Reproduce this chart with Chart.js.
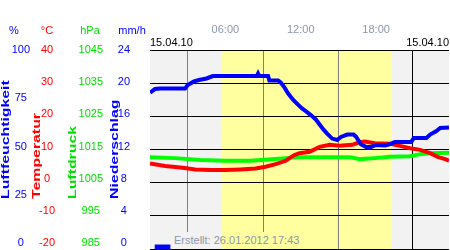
<!DOCTYPE html>
<html lang="de">
<head>
    <meta charset="UTF-8">
    <title>Wetter 15.04.10</title>
    <style>
        body {
            margin: 0;
            background: #fff;
            overflow: hidden;
            font-family: Arial, "Liberation Sans", sans-serif;
        }
        #wrap {
            position: relative;
            width: 450px;
            height: 250px;
        }
        #wrap canvas {
            position: absolute;
            left: 0;
            top: 0;
        }
        .unit {
            position: absolute;
            top: 24px;
            width: 40px;
            margin-left: -20px;
            text-align: center;
            font-size: 11px;
            line-height: 13px;
        }
        .vt {
            position: absolute;
            transform-origin: 0 0;
            transform: rotate(-90deg) scaleX(1.44);
            font-weight: bold;
            font-size: 11px;
            line-height: 11px;
            white-space: nowrap;
        }
        /* the stamp hides the bottom of the 06:00 line, like the original */
        #stamp {
            position: absolute;
            left: 174px;
            top: 232px;
            height: 17px;
            padding-right: 2px;
            font-size: 11px;
            line-height: 17px;
            color: #8b97aa;
            white-space: nowrap;
            background: linear-gradient(to right, #f2f2f2 47px, #ffffa0 47px);
        }
    </style>
</head>
<body>
<div id="wrap">
    <canvas id="wetterChart" width="450" height="250"></canvas>
    <div class="unit" style="left:14px;color:#0000ff">%</div>
    <div class="unit" style="left:47px;color:#ff0000">°C</div>
    <div class="unit" style="left:90px;color:#00e000">hPa</div>
    <div class="unit" style="left:132px;color:#0000ff">mm/h</div>
    <div class="vt" style="left:0px;top:199px;color:#0000ff">Luftfeuchtigkeit</div>
    <div class="vt" style="left:31px;top:199px;color:#ff0000">Temperatur</div>
    <div class="vt" style="left:67px;top:199px;color:#00e000">Luftdruck</div>
    <div class="vt" style="left:109px;top:199px;color:#0000ff">Niederschlag</div>
    <div id="stamp">Erstellt: 26.01.2012 17:43</div>
</div>
<script src="https://cdn.jsdelivr.net/npm/chart.js"></script>
<script>
    // time axis (hours of the day)
    const xMax = 23.8;
    const timeTicks = [6, 12, 18];
    const timeLabels = ['06:00', '12:00', '18:00'];
    const dateLabel = '15.04.10';
    const dayStart = 5.65;   // sunrise
    const dayEnd = 19.24;    // sunset

    // left axis tick labels
    const humTicks = [0, 25, 50, 75, 100];
    const tempTicks = [-20, -10, 0, 10, 20, 30, 40];
    const presTicks = [985, 995, 1005, 1015, 1025, 1035, 1045];
    const rainTicks = [0, 4, 8, 12, 16, 20, 24];

    // Luftfeuchtigkeit (%)
    const humHours = [0, 0.4, 0.8, 2.8, 3.0, 3.5, 3.9, 4.5, 5.0, 8.5, 8.6, 8.7, 9.4, 9.5, 10.2, 10.4, 10.7, 11.0, 11.4, 11.8,
        12.1, 12.4, 12.8, 13.2, 13.5, 13.8, 14.1, 14.5, 14.9, 15.2, 15.7, 16.2, 16.4, 16.8, 17.2, 17.6, 18.0, 18.7, 19.0,
        19.5, 20.8, 21.0, 22.0, 22.3, 22.8, 23.1, 23.8];
    const humValues = [78.6, 80.4, 80.7, 80.7, 82.4, 84.2, 84.9, 85.7, 86.9, 86.9, 88.2, 86.9, 86.9, 84.7, 84.7, 83.7, 81.2, 78.1, 74.9, 72.4,
        70.6, 69.3, 67.3, 65.1, 62.6, 60.1, 58.0, 55.5, 54.8, 56.3, 57.5, 57.5, 56.5, 52.5, 51.3, 51.3, 52.3, 52.0, 52.5,
        53.8, 53.8, 55.8, 55.8, 57.5, 59.3, 60.8, 61.1];

    // Temperatur (°C)
    const tempHours = [0, 1.2, 2.6, 3.6, 4.8, 6.0, 7.2, 8.4, 9.2, 10.0, 10.8, 11.1, 11.5, 11.9, 12.7, 13.5, 14.3, 15.1, 16.1, 16.6,
        17.1, 17.9, 19.1, 19.9, 20.7, 21.5, 22.3, 22.9, 23.5, 23.8];
    const tempValues = [5.8, 5.0, 4.5, 4.0, 3.8, 3.8, 4.0, 4.3, 4.8, 5.6, 6.6, 7.4, 8.3, 8.9, 9.3, 10.8, 11.4, 11.1, 11.4, 12.1,
        12.4, 11.9, 11.7, 11.1, 10.4, 9.9, 8.9, 7.8, 7.1, 6.6];

    // Luftdruck (hPa)
    const presHours = [0, 2.0, 4.0, 6.0, 8.0, 10.0, 11.9, 13.9, 15.9, 16.7, 17.9, 19.1, 20.7, 21.5, 22.3, 23.8];
    const presValues = [1012.7, 1012.4, 1011.8, 1011.6, 1011.6, 1012.1, 1012.7, 1012.7, 1012.7, 1012.1, 1012.4, 1012.8, 1013.0, 1013.6, 1013.9, 1014.0];

    // Niederschlag (mm/h)
    const rainHours = [1.0];
    const rainValues = [0.5];

    const toPoints = (xs, ys) => xs.map((x, i) => ({ x: x, y: ys[i] }));

    // axis that only carries tick labels, spread like the original (bottom label lifted a little)
    function labelAxis(ticks, color, weight, width, pad) {
        const lo = ticks[0];
        const hi = ticks[ticks.length - 1];
        return {
            type: 'linear',
            position: 'left',
            weight: weight,
            min: hi - (hi - lo) * 199 / 193,
            max: hi,
            afterBuildTicks: s => { s.ticks = ticks.map(v => ({ value: v })); },
            afterFit: s => { s.width = width; s.paddingTop = 0; s.paddingBottom = 0; },
            grid: { display: false, drawTicks: false },
            border: { display: false },
            ticks: {
                color: color,
                padding: pad,
                crossAlign: 'center',
                autoSkip: false,
                font: { size: 11 },
                callback: v => String(v)
            }
        };
    }

    const dayShade = {
        id: 'dayShade',
        beforeDraw(chart) {
            const { ctx, chartArea: a, scales: { x } } = chart;
            ctx.save();
            ctx.fillStyle = '#f2f2f2';
            ctx.fillRect(a.left, a.top, a.width, a.height);
            const x0 = x.getPixelForValue(dayStart);
            const x1 = x.getPixelForValue(dayEnd);
            ctx.fillStyle = '#ffffa0';
            ctx.fillRect(x0, a.top, x1 - x0, a.height);
            ctx.restore();
        }
    };

    Chart.defaults.font.family = 'Arial, "Liberation Sans", sans-serif';
    Chart.defaults.font.size = 11;

    new Chart(document.getElementById('wetterChart').getContext('2d'), {
        type: 'line',
        data: {
            datasets: [
                {
                    label: 'Luftfeuchtigkeit',
                    data: toPoints(humHours, humValues),
                    yAxisID: 'yH',
                    borderColor: '#0000ff',
                    borderWidth: 4,
                    pointRadius: 0,
                    order: 0
                },
                {
                    label: 'Temperatur',
                    data: toPoints(tempHours, tempValues),
                    yAxisID: 'yT',
                    borderColor: '#ff0000',
                    borderWidth: 4,
                    pointRadius: 0,
                    order: 1
                },
                {
                    label: 'Luftdruck',
                    data: toPoints(presHours, presValues),
                    yAxisID: 'yP',
                    borderColor: '#00ff00',
                    borderWidth: 4,
                    pointRadius: 0,
                    order: 2
                },
                {
                    type: 'bar',
                    label: 'Niederschlag',
                    data: toPoints(rainHours, rainValues),
                    yAxisID: 'yR',
                    backgroundColor: '#0000ff',
                    barThickness: 15,
                    order: 3
                }
            ]
        },
        options: {
            responsive: false,
            animation: false,
            layout: { padding: { top: 0, left: 0, right: 1, bottom: 1 } },
            plugins: {
                legend: { display: false },
                tooltip: { enabled: false }
            },
            scales: {
                x: {
                    type: 'linear',
                    position: 'top',
                    weight: 2,
                    min: 0,
                    max: xMax,
                    offset: false,
                    afterBuildTicks: s => { s.ticks = [0, ...timeTicks, xMax].map(v => ({ value: v })); },
                    afterFit: s => { s.height = 37; s.paddingLeft = 0; s.paddingRight = 0; },
                    grid: {
                        color: c => timeTicks.includes(c.tick && c.tick.value) ? '#808080' : '#000000',
                        drawTicks: false
                    },
                    border: { display: false },
                    ticks: {
                        color: '#8b97aa',
                        padding: 0,
                        autoSkip: false,
                        maxRotation: 0,
                        callback: v => {
                            const i = timeTicks.indexOf(v);
                            return i < 0 ? '' : timeLabels[i];
                        }
                    }
                },
                xd: {
                    type: 'linear',
                    position: 'top',
                    weight: 1,
                    min: 0,
                    max: xMax,
                    afterBuildTicks: s => { s.ticks = [{ value: 0 }, { value: xMax }]; },
                    afterFit: s => { s.height = 13; s.paddingLeft = 0; s.paddingRight = 0; },
                    grid: { display: false, drawTicks: false },
                    border: { display: false },
                    ticks: {
                        color: '#000000',
                        padding: 0,
                        align: 'inner',
                        autoSkip: false,
                        maxRotation: 0,
                        callback: () => dateLabel
                    }
                },
                hL: labelAxis(humTicks, '#0000ff', 4, 30, 0),
                tL: labelAxis(tempTicks, '#ff0000', 3, 25, 0),
                pL: labelAxis(presTicks, '#00e000', 2, 48, 0),
                rL: labelAxis(rainTicks, '#0000ff', 1, 47, 20),
                yT: {
                    type: 'linear',
                    position: 'left',
                    weight: 0,
                    min: tempTicks[0],
                    max: tempTicks[tempTicks.length - 1],
                    afterBuildTicks: s => { s.ticks = tempTicks.map(v => ({ value: v })); },
                    afterFit: s => { s.width = 0; s.paddingTop = 0; s.paddingBottom = 0; },
                    grid: { color: '#000000', drawTicks: false },
                    border: { display: false },
                    ticks: { display: false }
                },
                yH: { type: 'linear', display: false, min: humTicks[0], max: humTicks[humTicks.length - 1] },
                yP: { type: 'linear', display: false, min: presTicks[0], max: presTicks[presTicks.length - 1] },
                yR: { type: 'linear', display: false, min: rainTicks[0], max: rainTicks[rainTicks.length - 1] }
            }
        },
        plugins: [dayShade]
    });
</script>
</body>
</html>
